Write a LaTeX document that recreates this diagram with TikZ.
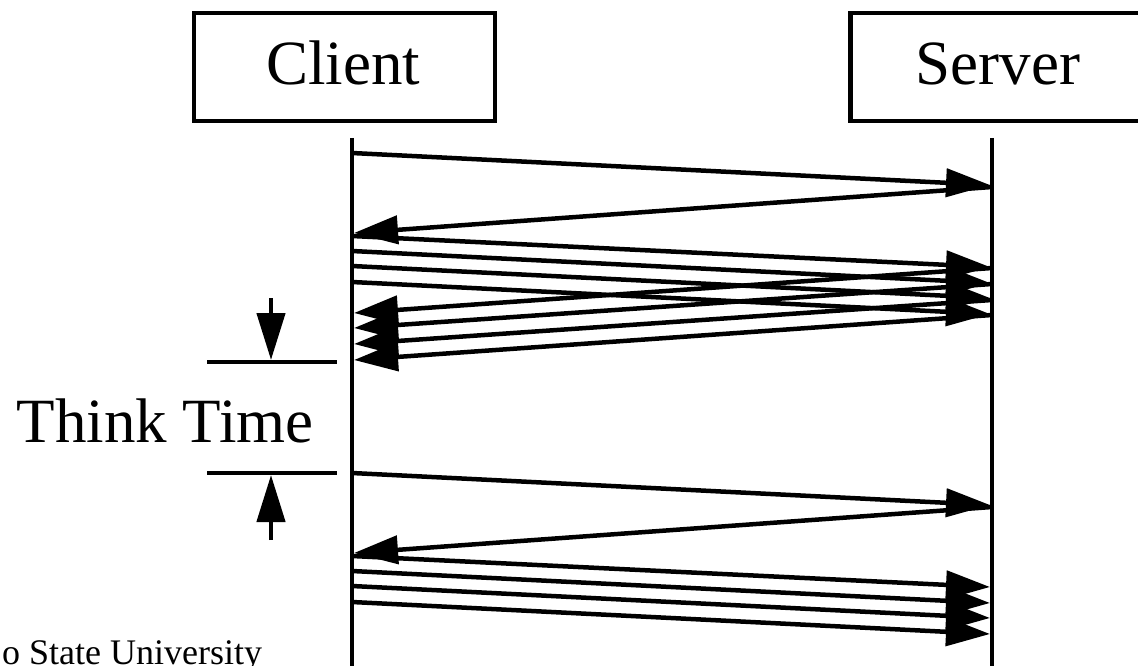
\documentclass[tikz,border=0pt]{standalone}
\usepackage{fontspec}
\setmainfont{Liberation Serif}
\usetikzlibrary{arrows.meta}
\begin{document}
\begin{tikzpicture}[x=1pt,y=-1pt,
  lane/.style={line width=4.5pt},
  box/.style={draw,line width=4.5pt,minimum width=301pt,minimum height=108pt,inner sep=0pt},
  lbl/.style={font=\fontsize{63}{70}\selectfont,inner sep=0pt,anchor=base},
  foot/.style={font=\fontsize{36}{40}\selectfont,inner sep=0pt,anchor=base west},
  msg/.style={line width=4.5pt,-{Triangle[length=44pt,width=28pt]}},
  dimarrow/.style={line width=4.5pt,-{Triangle[length=47pt,width=28pt]}},
  tick/.style={line width=4.5pt}]
\useasboundingbox (0,0) rectangle (1138,666);
% boxes and labels
\node[box] (clientbox) at (344.5,67) {};
\node[lbl] (clienttxt) at (343,85) {Client};
\node[box] (serverbox) at (1001,67) {};
\node[lbl] (servertxt) at (998,85) {Server};
% lifelines
\coordinate (ctop) at (352,138);
\coordinate (cbot) at (352,670);
\coordinate (stop) at (992,138);
\coordinate (sbot) at (992,670);
\draw[lane] (ctop) -- (cbot);
\draw[lane] (stop) -- (sbot);
% two rounds: request and response
\foreach \o in {0,320}{
  \coordinate (rqa\o) at (352,153+\o);
  \coordinate (rqb\o) at (990,185+\o);
  \coordinate (rsa\o) at (992,187+\o);
  \coordinate (rsb\o) at (354,233+\o);
  \draw[msg] (rqa\o) -- (rqb\o);
  \draw[msg] (rsa\o) -- (rsb\o);
  \foreach \s/\e in {236/267,251/283,266/298,282/314}{
    \coordinate (pa\o-\s) at (352,\s+\o);
    \coordinate (pb\o-\s) at (990,\e+\o);
    \draw[msg] (pa\o-\s) -- (pb\o-\s);
  }
}
% responses of first burst
\foreach \s/\e in {268/313,284/328,300/344,315/360}{
  \coordinate (qa\s) at (992,\s);
  \coordinate (qb\s) at (354,\e);
  \draw[msg] (qa\s) -- (qb\s);
}
% think time
\coordinate (t1a) at (207,362);
\coordinate (t1b) at (337,362);
\coordinate (t2a) at (207,473);
\coordinate (t2b) at (337,473);
\draw[tick] (t1a) -- (t1b);
\draw[tick] (t2a) -- (t2b);
\coordinate (d1a) at (271,298);
\coordinate (d1b) at (271,360);
\coordinate (d2a) at (271,540);
\coordinate (d2b) at (271,475);
\draw[dimarrow] (d1a) -- (d1b);
\draw[dimarrow] (d2a) -- (d2b);
\node[lbl] (think) at (165,442) {Think Time};
\node[foot] (footer) at (2,664) {o State University};
\end{tikzpicture}
\end{document}
